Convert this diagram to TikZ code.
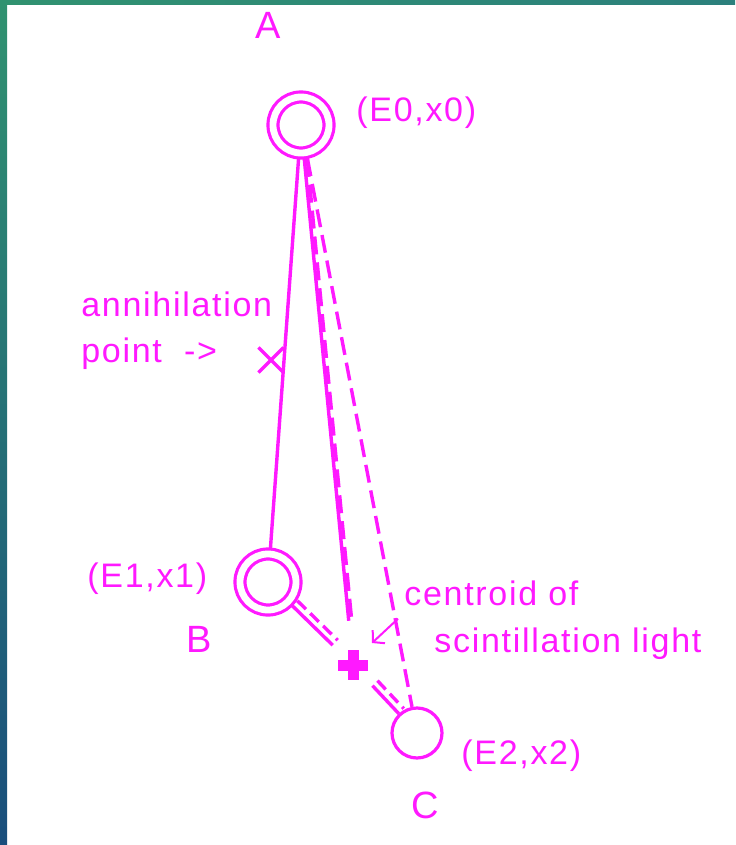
\documentclass[tikz,border=0pt]{standalone}
\usepackage{fontspec}
\setmainfont[LetterSpace=5]{Liberation Sans}
\usepackage{tikz}
\usetikzlibrary{arrows.meta,shapes.misc}

\definecolor{pinkline}{RGB}{255,25,255}
\definecolor{edgegreen}{RGB}{48,146,112}
\definecolor{edgeteal}{RGB}{44,128,124}
\definecolor{edgeblue}{RGB}{26,78,124}

\tikzset{
  wire/.style={draw=pinkline,line width=1.7pt},
  longdash/.style={dash pattern=on 9pt off 4pt},
  shortdash/.style={dash pattern=on 6pt off 3pt},
  ring/.style={circle,draw=pinkline,line width=1.6pt,double=white,double distance=3.4pt,
    minimum size=28pt,inner sep=0pt,outer sep=3pt},
  cell/.style={circle,draw=pinkline,line width=1.6pt,minimum size=25pt,inner sep=0pt},
  txt/.style={text=pinkline,font=\fontsize{17}{20}\selectfont,inner sep=0pt,anchor=base west},
  tag/.style={text=pinkline,font=\fontsize{19}{22}\selectfont,inner sep=0pt,anchor=base}
}

\begin{document}
\begin{tikzpicture}[x=0.5pt,y=-0.5pt]
        % frame of the slide
        \useasboundingbox (0,0) rectangle (735,845);
        \fill[white] (0,0) rectangle (735,845);
        \fill[top color=edgegreen,bottom color=edgeblue] (0,0) rectangle (7,845);
        \fill[left color=edgegreen,right color=edgeteal] (0,0) rectangle (735,5);

        % detectors and centroid
        \node[ring] (A) at (301,125) {};
        \node[ring] (B) at (268,582) {};
        \node[cell] (C) at (417,733) {};
        \node[circle,minimum size=28pt,inner sep=0pt] (X) at (353,665) {};
        \draw[pinkline,line width=5.5pt] (X.center) +(-15,0) -- +(15,0);
        \draw[pinkline,line width=5.5pt] (X.center) +(0,-15) -- +(0,15);
        \node[cross out,draw=pinkline,line width=1.6pt,minimum size=11pt,inner sep=0pt] (ann) at (271,360) {};

        % gamma paths
        \draw[wire] (A) -- (B);
        \draw[wire,shorten >=8pt] (A) -- (X);
        \draw[wire,longdash,shorten >=8pt,transform canvas={xshift=1.5pt}] (A) -- (X);
        \draw[wire,longdash] (A) -- (C);
        \draw[wire] (B) -- (X);
        \draw[wire,shortdash,transform canvas={shift={(2.5pt,2.5pt)}}] (B) -- (X);
        \draw[wire] (X) -- (C);
        \draw[wire,shortdash,transform canvas={shift={(2.5pt,2.5pt)}}] (X) -- (C);

        % labels
        \node[tag] (labA) at (268,39) {A};
        \node[tag] (labB) at (199,652) {B};
        \node[tag] (labC) at (425,818) {C};
        \node[txt] (e0) at (356,122) {(E0,x0)};
        \node[txt] (e1) at (87,587) {(E1,x1)};
        \node[txt] (e2) at (461,764) {(E2,x2)};
        \node[txt] (ann1) at (81,316) {annihilation};
        \node[txt] (ann2) at (81,362) {point\ \ ->};
        \node[txt] (cen) at (404,605) {centroid of};
        \node[txt] (scin) at (434,652) {scintillation light};

        \coordinate (aim) at (372,643);
        \draw[pinkline,line width=1pt,-{Straight Barb[length=4pt,width=9pt]}]
          ([shift={(-6,13)}]cen.south west) -- (aim);
    \end{tikzpicture}
\end{document}
